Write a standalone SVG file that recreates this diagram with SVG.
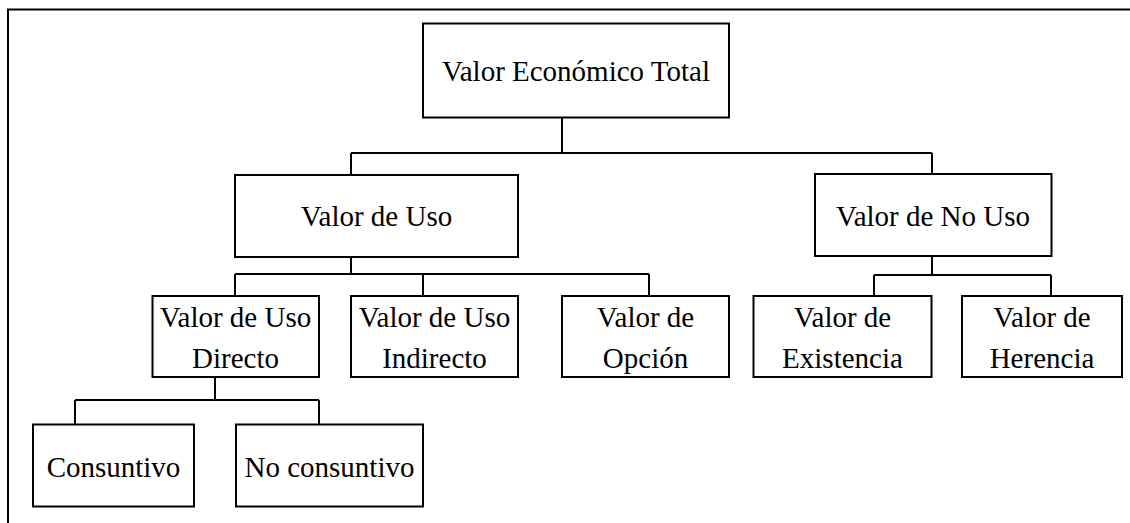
<svg xmlns="http://www.w3.org/2000/svg" width="1130" height="523" viewBox="0 0 1130 523">
<style>
.box{fill:#fff;stroke:#000;stroke-width:2}
.ln{fill:none;stroke:#000;stroke-width:2}
text{font-family:"Liberation Serif","Times New Roman",serif;font-size:29px;fill:#000;text-anchor:middle}
</style>
<rect width="1130" height="523" fill="#fff"/>
<path class="ln" d="M8,523 V9.5 H1130"/>
<g id="connectors">
<path class="ln" d="M562,118 V153 M351,153 H932 M351,153 V175 M932,153 V175"/>
<path class="ln" d="M351,257 V274 M235,274 H649 M235,274 V296 M423,274 V296 M649,274 V296"/>
<path class="ln" d="M932,256 V275 M874,275 H1051 M874,275 V296 M1051,275 V296"/>
<path class="ln" d="M215,377 V400 M75,400 H319 M75,400 V424 M319,400 V424"/>
</g>
<g id="vet"><rect class="box" x="423" y="23.5" width="306" height="94"/><text x="576" y="81">Valor Económico Total</text></g>
<g id="uso"><rect class="box" x="235" y="175" width="283" height="82"/><text x="376.5" y="226">Valor de Uso</text></g>
<g id="nouso"><rect class="box" x="815" y="174" width="236.5" height="82"/><text x="933" y="226">Valor de No Uso</text></g>
<g id="directo"><rect class="box" x="152.5" y="296" width="166.5" height="81"/><text x="235.5" y="327">Valor de Uso</text><text x="235.5" y="368">Directo</text></g>
<g id="indirecto"><rect class="box" x="351" y="296" width="167" height="81"/><text x="434.5" y="327">Valor de Uso</text><text x="434.5" y="368">Indirecto</text></g>
<g id="opcion"><rect class="box" x="562" y="296" width="167" height="81"/><text x="645.5" y="327">Valor de</text><text x="645.5" y="368">Opción</text></g>
<g id="existencia"><rect class="box" x="753.5" y="296" width="178" height="81"/><text x="842.5" y="327">Valor de</text><text x="842.5" y="368">Existencia</text></g>
<g id="herencia"><rect class="box" x="962" y="296" width="160" height="81"/><text x="1042" y="327">Valor de</text><text x="1042" y="368">Herencia</text></g>
<g id="consuntivo"><rect class="box" x="33" y="424.5" width="161" height="82"/><text x="113.5" y="477">Consuntivo</text></g>
<g id="noconsuntivo"><rect class="box" x="236" y="424.5" width="187" height="82"/><text x="329.5" y="477">No consuntivo</text></g>
</svg>
